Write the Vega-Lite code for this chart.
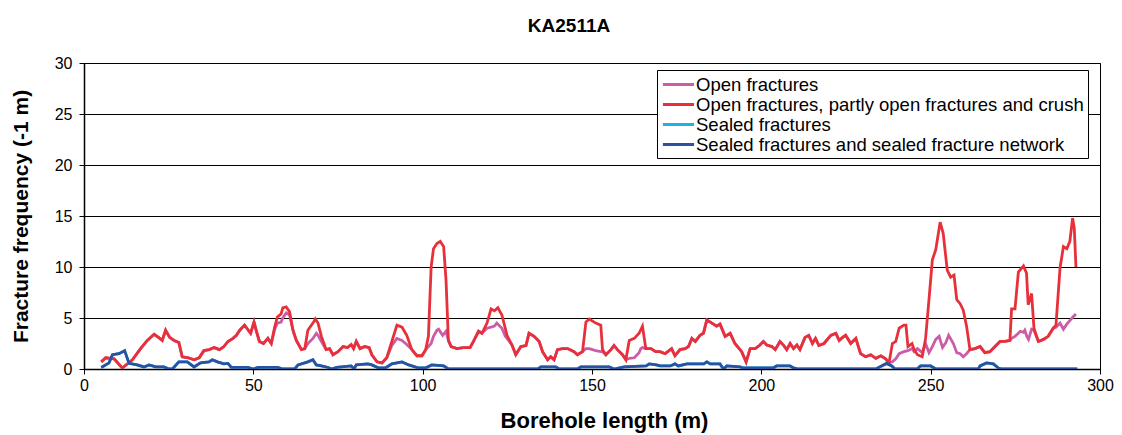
{
"$schema": "https://vega.github.io/schema/vega-lite/v6.json",
"width": 1016, "height": 306,
"autosize": {"type": "none"},
"padding": {"left": 84, "top": 63, "right": 22, "bottom": 66},
"title": {"text": "KA2511A", "fontSize": 19, "font": "Liberation Sans", "fontWeight": "bold", "anchor": "middle", "dx": -23, "offset": 19, "color": "#000"},
"config": {
  "view": {"stroke": "#000", "strokeWidth": 1},
  "font": "Liberation Sans",
  "axis": {"labelFont": "Liberation Sans", "titleFont": "Liberation Sans", "labelColor": "#000", "titleColor": "#000", "domainColor": "#000", "tickColor": "#000", "labelFontSize": 16, "titleFontSize": 21, "titleFontWeight": "bold", "domainWidth": 1.5, "tickSize": 5}
},
"datasets": {
  "open": [
{"x":5.1,"y":0.7},{"x":6.4,"y":1.1},{"x":8.9,"y":1.0},{"x":11.3,"y":0.1},{"x":14.3,"y":0.9},{"x":16.7,"y":2.0},{"x":18.7,"y":2.8},{"x":20.7,"y":3.4},{"x":22.0,"y":3.1},{"x":23.1,"y":2.8},{"x":24.1,"y":3.8},{"x":25.3,"y":3.1},{"x":26.6,"y":2.8},{"x":28.0,"y":2.6},{"x":29.0,"y":1.2},{"x":30.8,"y":1.1},{"x":32.5,"y":0.9},{"x":34.0,"y":1.1},{"x":35.4,"y":1.8},{"x":37.0,"y":1.9},{"x":38.4,"y":2.1},{"x":40.0,"y":1.9},{"x":41.3,"y":2.2},{"x":42.5,"y":2.7},{"x":44.0,"y":3.0},{"x":45.0,"y":3.3},{"x":46.0,"y":3.8},{"x":47.4,"y":4.3},{"x":48.3,"y":3.9},{"x":49.2,"y":3.5},{"x":50.2,"y":4.6},{"x":51.0,"y":3.6},{"x":51.8,"y":2.7},{"x":53.0,"y":2.5},{"x":54.3,"y":3.0},{"x":55.3,"y":2.5},
{"x":56.3,"y":3.9},{"x":57.1,"y":4.5},{"x":58.2,"y":4.6},{"x":58.7,"y":5.0},{"x":59.7,"y":5.5},{"x":60.7,"y":5.3},{"x":61.7,"y":3.8},{"x":62.7,"y":2.8},{"x":64.2,"y":1.9},{"x":65.2,"y":2.0},{"x":66.1,"y":2.5},{"x":67.6,"y":3.0},{"x":68.6,"y":3.5},{"x":69.1,"y":3.3},{"x":70.1,"y":2.7},{"x":71.5,"y":1.9},{"x":72.5,"y":2.0},{"x":73.5,"y":1.4},{"x":75.0,"y":1.7},{"x":76.5,"y":2.2},{"x":77.8,"y":2.1},{"x":78.9,"y":2.4},{"x":79.6,"y":2.0},{"x":80.4,"y":2.7},{"x":81.5,"y":2.0},{"x":82.9,"y":2.2},{"x":84.2,"y":2.1},{"x":85.0,"y":1.4},{"x":86.5,"y":0.7},{"x":88.0,"y":0.6},{"x":89.4,"y":1.1},{"x":90.9,"y":2.3},{"x":92.4,"y":3.0},{"x":93.9,"y":2.8},{"x":95.3,"y":2.4},{"x":96.8,"y":1.9},{"x":98.3,"y":1.3},{"x":99.8,"y":1.3},{"x":100.9,"y":1.9},{"x":101.7,"y":2.2},{"x":102.5,"y":2.5},{"x":103.2,"y":3.2},{"x":104.2,"y":3.8},{"x":104.7,"y":3.9},{"x":105.9,"y":3.3},{"x":106.9,"y":3.7},{"x":107.6,"y":2.8},{"x":108.4,"y":2.2},{"x":110.1,"y":2.0},{"x":112.0,"y":2.1},{"x":114.0,"y":2.1},{"x":115.0,"y":2.7},{"x":116.5,"y":3.7},{"x":117.5,"y":3.5},{"x":119.0,"y":4.0},{"x":120.2,"y":4.1},{"x":121.2,"y":4.2},{"x":121.9,"y":4.5},{"x":123.4,"y":4.0},{"x":124.4,"y":3.2},{"x":124.9,"y":3.0},{"x":126.3,"y":2.4},{"x":127.5,"y":1.4},{"x":129.0,"y":2.2},{"x":130.5,"y":2.3},{"x":131.4,"y":3.5},{"x":132.9,"y":3.2},{"x":134.4,"y":2.7},{"x":135.4,"y":1.7},{"x":136.9,"y":0.9},{"x":137.8,"y":1.2},{"x":138.8,"y":0.9},{"x":139.8,"y":1.9},{"x":141.3,"y":2.0},{"x":142.8,"y":2.0},{"x":144.7,"y":1.7},{"x":145.7,"y":1.4},{"x":147.2,"y":1.7},{"x":148.2,"y":2.0},{"x":149.2,"y":2.0},{"x":151.1,"y":1.8},{"x":152.6,"y":1.7},{"x":153.1,"y":1.7},{"x":154.1,"y":1.4},{"x":155.6,"y":1.9},{"x":156.5,"y":2.3},{"x":157.5,"y":1.9},{"x":159.0,"y":1.4},{"x":160.0,"y":0.9},{"x":161.0,"y":1.05},{"x":162.5,"y":1.1},{"x":163.9,"y":1.6},{"x":164.4,"y":2.0},{"x":164.9,"y":2.1},{"x":165.9,"y":2.0},{"x":167.4,"y":2.0},{"x":168.8,"y":1.7},
{"x":170.1,"y":1.7},{"x":171.6,"y":1.5},{"x":173.5,"y":2.0},{"x":174.5,"y":1.3},{"x":176.0,"y":1.9},{"x":177.5,"y":2.0},{"x":178.5,"y":2.2},{"x":179.5,"y":3.0},{"x":180.5,"y":2.7},{"x":181.9,"y":3.3},{"x":182.9,"y":3.5},{"x":183.9,"y":4.8},{"x":185.4,"y":4.5},{"x":186.8,"y":4.2},{"x":187.8,"y":4.4},{"x":189.3,"y":3.2},{"x":190.8,"y":3.5},{"x":192.2,"y":2.5},{"x":194.2,"y":1.7},{"x":195.5,"y":0.7},{"x":196.7,"y":2.0},{"x":198.2,"y":2.0},{"x":199.6,"y":2.35},{"x":200.6,"y":2.7},{"x":201.6,"y":2.35},{"x":203.1,"y":2.2},{"x":204.1,"y":1.9},{"x":205.5,"y":2.7},{"x":206.5,"y":2.35},{"x":207.5,"y":1.9},{"x":208.5,"y":2.5},{"x":209.5,"y":2.0},{"x":210.5,"y":2.35},{"x":211.4,"y":1.9},{"x":212.9,"y":3.1},{"x":214.0,"y":3.3},{"x":215.1,"y":2.5},{"x":216.0,"y":3.0},{"x":217.0,"y":2.3},{"x":218.5,"y":2.5},{"x":220.5,"y":3.3},{"x":222.0,"y":3.5},{"x":223.0,"y":2.8},{"x":224.0,"y":3.1},{"x":224.9,"y":3.3},{"x":226.4,"y":2.5},{"x":227.9,"y":3.0},{"x":229.3,"y":1.5},{"x":230.8,"y":1.2},{"x":232.3,"y":1.4},{"x":233.8,"y":1.05},{"x":235.3,"y":1.3},{"x":236.7,"y":1.0},{"x":237.7,"y":0.6},
{"x":238.7,"y":0.7},{"x":239.7,"y":1.0},{"x":240.7,"y":1.5},{"x":242.1,"y":1.7},{"x":243.3,"y":1.8},{"x":244.5,"y":2.0},{"x":245.1,"y":1.7},{"x":246.1,"y":2.0},{"x":247.5,"y":1.6},{"x":248.5,"y":2.5},{"x":249.5,"y":1.6},{"x":250.5,"y":2.2},{"x":251.5,"y":2.9},{"x":252.5,"y":3.2},{"x":253.5,"y":2.1},{"x":254.5,"y":2.6},{"x":255.3,"y":3.3},{"x":256.7,"y":2.5},{"x":257.7,"y":1.6},{"x":258.7,"y":1.5},{"x":259.6,"y":1.2},{"x":260.6,"y":1.5},{"x":261.6,"y":1.9},{"x":263.1,"y":2.0},{"x":264.6,"y":2.2},{"x":266.0,"y":1.6},{"x":267.5,"y":1.7},{"x":269.0,"y":2.2},{"x":270.5,"y":2.7},{"x":272.0,"y":2.7},{"x":273.4,"y":2.8},{"x":273.9,"y":3.0},{"x":274.9,"y":3.2},{"x":275.9,"y":3.5},{"x":276.5,"y":3.7},{"x":277.4,"y":3.6},{"x":277.8,"y":3.8},{"x":278.4,"y":3.2},{"x":278.9,"y":2.9},{"x":279.8,"y":3.9},{"x":280.5,"y":3.8},{"x":281.8,"y":2.7},{"x":283.3,"y":2.9},{"x":284.7,"y":3.2},{"x":286.2,"y":4.0},{"x":287.0,"y":4.1},{"x":288.2,"y":4.5},{"x":289.2,"y":3.9},{"x":290.2,"y":4.4},{"x":291.2,"y":4.8},{"x":292.0,"y":5.1},{"x":292.9,"y":5.4}
  ],
  "crush": [
{"x":5.1,"y":0.7},{"x":6.4,"y":1.1},{"x":8.9,"y":1.0},{"x":11.3,"y":0.1},{"x":14.3,"y":0.9},{"x":16.7,"y":2.0},{"x":18.7,"y":2.8},{"x":20.7,"y":3.4},{"x":22.0,"y":3.1},{"x":23.1,"y":2.8},{"x":24.1,"y":3.8},{"x":25.3,"y":3.1},{"x":26.6,"y":2.8},{"x":28.0,"y":2.6},{"x":29.0,"y":1.2},{"x":30.8,"y":1.1},{"x":32.5,"y":0.9},{"x":34.0,"y":1.1},{"x":35.4,"y":1.8},{"x":37.0,"y":1.9},{"x":38.4,"y":2.1},{"x":40.0,"y":1.9},{"x":41.3,"y":2.2},{"x":42.5,"y":2.7},{"x":44.0,"y":3.0},{"x":45.0,"y":3.3},{"x":46.0,"y":3.8},{"x":47.4,"y":4.3},{"x":48.3,"y":3.9},{"x":49.2,"y":3.5},{"x":50.2,"y":4.6},{"x":51.0,"y":3.6},{"x":51.8,"y":2.7},{"x":53.0,"y":2.5},{"x":54.3,"y":3.0},{"x":55.3,"y":2.5},{"x":56.3,"y":4.1},{"x":57.1,"y":5.1},{"x":58.2,"y":5.4},{"x":58.7,"y":6.0},{"x":59.7,"y":6.1},{"x":60.7,"y":5.6},{"x":61.7,"y":3.8},{"x":62.7,"y":2.8},{"x":64.2,"y":1.9},{"x":65.2,"y":2.0},{"x":66.1,"y":3.8},{"x":67.6,"y":4.5},{"x":68.3,"y":4.9},{"x":69.1,"y":4.5},{"x":70.1,"y":3.2},{"x":71.5,"y":1.9},{"x":72.5,"y":2.0},{"x":73.5,"y":1.4},{"x":75.0,"y":1.7},{"x":76.5,"y":2.2},{"x":77.8,"y":2.1},{"x":78.9,"y":2.4},{"x":79.6,"y":2.0},{"x":80.4,"y":2.7},{"x":81.5,"y":2.0},{"x":82.9,"y":2.2},{"x":84.2,"y":2.1},{"x":85.0,"y":1.4},{"x":86.5,"y":0.7},{"x":88.0,"y":0.6},{"x":89.4,"y":1.1},{"x":90.9,"y":2.7},{"x":92.4,"y":4.3},{"x":93.9,"y":4.1},{"x":95.3,"y":3.3},{"x":96.8,"y":1.9},{"x":98.3,"y":1.3},{"x":99.8,"y":1.3},{"x":100.9,"y":1.9},{"x":101.7,"y":3.2},{"x":102.5,"y":10.0},{"x":103.2,"y":11.8},{"x":104.2,"y":12.3},{"x":105.2,"y":12.5},{"x":106.2,"y":12.0},{"x":106.9,"y":8.7},{"x":107.6,"y":2.8},{"x":108.4,"y":2.2},{"x":110.1,"y":2.0},{"x":112.0,"y":2.1},{"x":114.0,"y":2.1},{"x":115.0,"y":2.7},{"x":116.5,"y":3.7},{"x":117.5,"y":3.5},{"x":119.0,"y":4.5},{"x":120.2,"y":5.9},{"x":121.2,"y":5.7},{"x":122.2,"y":6.0},{"x":123.4,"y":5.3},{"x":124.9,"y":3.3},{"x":126.3,"y":2.4},{"x":127.5,"y":1.4},{"x":129.0,"y":2.2},{"x":130.5,"y":2.3},{"x":131.4,"y":3.5},{"x":132.9,"y":3.2},{"x":134.4,"y":2.7},{"x":135.4,"y":1.7},{"x":136.9,"y":0.9},{"x":137.8,"y":1.2},{"x":138.8,"y":0.9},{"x":139.8,"y":1.9},{"x":141.3,"y":2.0},{"x":142.8,"y":2.0},{"x":144.7,"y":1.7},{"x":145.7,"y":1.4},{"x":147.2,"y":1.7},{"x":148.2,"y":4.6},{"x":149.2,"y":4.9},{"x":151.1,"y":4.5},{"x":152.6,"y":4.3},{"x":153.1,"y":1.9},{"x":154.1,"y":1.4},{"x":155.6,"y":1.9},{"x":156.5,"y":2.3},{"x":157.5,"y":1.9},{"x":159.0,"y":1.4},{"x":160.0,"y":0.9},{"x":161.0,"y":2.8},{"x":162.5,"y":3.0},{"x":163.9,"y":3.5},{"x":164.9,"y":4.2},{"x":165.9,"y":2.0},{"x":167.4,"y":2.0},{"x":168.8,"y":1.7},
{"x":170.1,"y":1.7},{"x":171.6,"y":1.5},{"x":173.5,"y":2.0},{"x":174.5,"y":1.3},{"x":176.0,"y":1.9},{"x":177.5,"y":2.0},{"x":178.5,"y":2.2},{"x":179.5,"y":3.0},{"x":180.5,"y":2.7},{"x":181.9,"y":3.3},{"x":182.9,"y":3.5},{"x":183.9,"y":4.8},{"x":185.4,"y":4.5},{"x":186.8,"y":4.2},{"x":187.8,"y":4.4},{"x":189.3,"y":3.2},{"x":190.8,"y":3.5},{"x":192.2,"y":2.5},{"x":194.2,"y":1.7},{"x":195.5,"y":0.7},{"x":196.7,"y":2.0},{"x":198.2,"y":2.0},{"x":199.6,"y":2.35},{"x":200.6,"y":2.7},{"x":201.6,"y":2.35},{"x":203.1,"y":2.2},{"x":204.1,"y":1.9},{"x":205.5,"y":2.7},{"x":206.5,"y":2.35},{"x":207.5,"y":1.9},{"x":208.5,"y":2.5},{"x":209.5,"y":2.0},{"x":210.5,"y":2.35},{"x":211.4,"y":1.9},{"x":212.9,"y":3.1},{"x":214.0,"y":3.3},{"x":215.1,"y":2.5},{"x":216.0,"y":3.0},{"x":217.0,"y":2.3},{"x":218.5,"y":2.5},{"x":220.5,"y":3.3},{"x":222.0,"y":3.5},{"x":223.0,"y":2.8},{"x":224.0,"y":3.1},{"x":224.9,"y":3.3},{"x":226.4,"y":2.5},{"x":227.9,"y":3.0},{"x":229.3,"y":1.5},{"x":230.8,"y":1.2},{"x":232.3,"y":1.4},{"x":233.8,"y":1.05},{"x":235.3,"y":1.3},{"x":236.7,"y":1.0},{"x":237.7,"y":0.6},{"x":238.7,"y":2.5},{"x":239.7,"y":2.7},{"x":240.7,"y":4.0},{"x":242.1,"y":4.3},{"x":242.7,"y":4.3},{"x":243.3,"y":2.2},{"x":244.5,"y":2.5},{"x":245.1,"y":1.9},{"x":246.1,"y":1.4},{"x":247.5,"y":1.2},{"x":248.5,"y":3.0},{"x":249.5,"y":6.8},{"x":250.5,"y":10.7},{"x":251.5,"y":11.7},{"x":252.8,"y":14.4},{"x":253.7,"y":13.3},{"x":254.9,"y":9.7},{"x":255.9,"y":9.0},{"x":256.9,"y":9.2},{"x":257.7,"y":6.8},{"x":258.7,"y":6.4},{"x":259.6,"y":5.8},{"x":260.6,"y":4.2},{"x":261.6,"y":1.9},{"x":263.1,"y":2.0},{"x":264.6,"y":2.2},{"x":266.0,"y":1.6},{"x":267.5,"y":1.7},{"x":269.0,"y":2.2},{"x":270.5,"y":2.7},{"x":272.0,"y":2.7},{"x":273.4,"y":2.8},{"x":273.9,"y":5.9},{"x":274.9,"y":5.9},{"x":275.9,"y":9.5},{"x":277.4,"y":10.1},{"x":278.3,"y":9.4},{"x":278.8,"y":6.3},{"x":279.8,"y":7.4},{"x":280.5,"y":4.0},{"x":281.8,"y":2.7},{"x":283.3,"y":2.9},{"x":284.7,"y":3.2},{"x":286.2,"y":4.0},{"x":287.0,"y":4.3},{"x":288.2,"y":9.9},{"x":289.2,"y":12.0},{"x":290.2,"y":11.8},{"x":291.1,"y":12.5},{"x":291.9,"y":14.8},{"x":292.4,"y":13.8},{"x":292.9,"y":10.0}
  ],
  "sealed": [
{"x":5.1,"y":0.15},{"x":7.4,"y":0.6},{"x":8.4,"y":1.4},{"x":10.3,"y":1.5},{"x":12.0,"y":1.8},{"x":13.3,"y":0.55},{"x":15.7,"y":0.4},{"x":17.7,"y":0.2},{"x":19.2,"y":0.4},{"x":21.2,"y":0.2},{"x":23.6,"y":0.2},{"x":25.1,"y":0},{"x":26.1,"y":0},{"x":28.0,"y":0.7},{"x":30.5,"y":0.7},{"x":32.5,"y":0.2},{"x":34.4,"y":0.6},{"x":36.9,"y":0.7},{"x":37.9,"y":0.9},{"x":39.4,"y":0.7},{"x":41.3,"y":0.5},{"x":42.5,"y":0.55},{"x":43.5,"y":0.15},{"x":48.4,"y":0.15},{"x":49.9,"y":0},{"x":51.4,"y":0.15},{"x":57.2,"y":0.15},{"x":58.7,"y":0},{"x":62.2,"y":0},{"x":63.2,"y":0.4},{"x":66.1,"y":0.7},{"x":67.6,"y":0.9},{"x":68.6,"y":0.4},{"x":70.1,"y":0.3},{"x":72.1,"y":0.15},{"x":73.1,"y":0},{"x":74.6,"y":0.15},{"x":78.9,"y":0.3},{"x":79.7,"y":0},{"x":80.4,"y":0.4},{"x":83.8,"y":0.5},{"x":85.0,"y":0.4},{"x":87.0,"y":0.1},{"x":89.0,"y":0.1},{"x":90.9,"y":0.5},{"x":93.9,"y":0.7},{"x":95.9,"y":0.4},{"x":98.8,"y":0.1},{"x":100.8,"y":0.1},{"x":102.7,"y":0.4},{"x":106.2,"y":0.3},{"x":107.6,"y":0},{"x":134.0,"y":0},{"x":134.9,"y":0.2},{"x":139.3,"y":0.2},{"x":140.3,"y":0},{"x":145.7,"y":0},{"x":146.7,"y":0.2},{"x":155.1,"y":0.2},{"x":156.5,"y":0},{"x":159.5,"y":0.2},{"x":166.0,"y":0.3},{"x":166.9,"y":0.5},{"x":169.0,"y":0.4},{"x":170.1,"y":0.3},{"x":173.1,"y":0.3},{"x":174.5,"y":0.5},{"x":175.5,"y":0.3},{"x":178.0,"y":0.5},{"x":183.0,"y":0.5},{"x":183.9,"y":0.7},{"x":184.9,"y":0.5},{"x":187.8,"y":0.5},{"x":188.8,"y":0},{"x":189.8,"y":0.3},{"x":193.7,"y":0.2},{"x":194.7,"y":0.1},{"x":203.5,"y":0.1},{"x":204.5,"y":0.3},{"x":208.5,"y":0.3},{"x":209.5,"y":0.1},{"x":211.0,"y":0},{"x":233.8,"y":0},{"x":235.5,"y":0.3},{"x":237.0,"y":0.55},{"x":238.5,"y":0.3},{"x":239.5,"y":0},{"x":246.0,"y":0},{"x":247.0,"y":0.3},{"x":250.0,"y":0.3},{"x":251.5,"y":0},{"x":264.1,"y":0},{"x":264.6,"y":0.3},{"x":266.5,"y":0.6},{"x":268.5,"y":0.5},{"x":270.0,"y":0.1},{"x":271.0,"y":0},{"x":293.3,"y":0}
  ],
  "network": [
{"x":5.1,"y":0.15},{"x":7.4,"y":0.6},{"x":8.4,"y":1.4},{"x":10.3,"y":1.5},{"x":12.0,"y":1.8},{"x":13.3,"y":0.55},{"x":15.7,"y":0.4},{"x":17.7,"y":0.2},{"x":19.2,"y":0.4},{"x":21.2,"y":0.2},{"x":23.6,"y":0.2},{"x":25.1,"y":0},{"x":26.1,"y":0},{"x":28.0,"y":0.7},{"x":30.5,"y":0.7},{"x":32.5,"y":0.2},{"x":34.4,"y":0.6},{"x":36.9,"y":0.7},{"x":37.9,"y":0.9},{"x":39.4,"y":0.7},{"x":41.3,"y":0.5},{"x":42.5,"y":0.55},{"x":43.5,"y":0.15},{"x":48.4,"y":0.15},{"x":49.9,"y":0},{"x":51.4,"y":0.15},{"x":57.2,"y":0.15},{"x":58.7,"y":0},{"x":62.2,"y":0},{"x":63.2,"y":0.4},{"x":66.1,"y":0.7},{"x":67.6,"y":0.9},{"x":68.6,"y":0.4},{"x":70.1,"y":0.3},{"x":72.1,"y":0.15},{"x":73.1,"y":0},{"x":74.6,"y":0.15},{"x":78.9,"y":0.3},{"x":79.7,"y":0},{"x":80.4,"y":0.4},{"x":83.8,"y":0.5},{"x":85.0,"y":0.4},{"x":87.0,"y":0.1},{"x":89.0,"y":0.1},{"x":90.9,"y":0.5},{"x":93.9,"y":0.7},{"x":95.9,"y":0.4},{"x":98.8,"y":0.1},{"x":100.8,"y":0.1},{"x":102.7,"y":0.4},{"x":106.2,"y":0.3},{"x":107.6,"y":0},{"x":134.0,"y":0},{"x":134.9,"y":0.2},{"x":139.3,"y":0.2},{"x":140.3,"y":0},{"x":145.7,"y":0},{"x":146.7,"y":0.2},{"x":155.1,"y":0.2},{"x":156.5,"y":0},{"x":159.5,"y":0.2},{"x":166.0,"y":0.3},{"x":166.9,"y":0.5},{"x":169.0,"y":0.4},{"x":170.1,"y":0.3},{"x":173.1,"y":0.3},{"x":174.5,"y":0.5},{"x":175.5,"y":0.3},{"x":178.0,"y":0.5},{"x":183.0,"y":0.5},{"x":183.9,"y":0.7},{"x":184.9,"y":0.5},{"x":187.8,"y":0.5},{"x":188.8,"y":0},{"x":189.8,"y":0.3},{"x":193.7,"y":0.2},{"x":194.7,"y":0.1},{"x":203.5,"y":0.1},{"x":204.5,"y":0.3},{"x":208.5,"y":0.3},{"x":209.5,"y":0.1},{"x":211.0,"y":0},{"x":233.8,"y":0},{"x":235.5,"y":0.3},{"x":237.0,"y":0.55},{"x":238.5,"y":0.3},{"x":239.5,"y":0},{"x":246.0,"y":0},{"x":247.0,"y":0.3},{"x":250.0,"y":0.3},{"x":251.5,"y":0},{"x":264.1,"y":0},{"x":264.6,"y":0.3},{"x":266.5,"y":0.6},{"x":268.5,"y":0.5},{"x":270.0,"y":0.1},{"x":271.0,"y":0},{"x":293.3,"y":0}
  ]
},
"encoding": {
  "x": {"field": "x", "type": "quantitative", "scale": {"domain": [0, 300], "nice": false, "zero": false},
        "axis": {"values": [0,50,100,150,200,250,300], "grid": false, "title": "Borehole length (m)", "titleFontSize": 22, "titleX": 520, "labelPadding": 3, "titlePadding": 17, "labelFlush": false}},
  "y": {"field": "y", "type": "quantitative", "scale": {"domain": [0, 30], "nice": false},
        "axis": {"values": [0,5,10,15,20,25,30], "grid": true, "gridColor": "#000", "gridWidth": 1, "gridOpacity": 1, "title": "Fracture frequency (-1 m)", "labelPadding": 7, "titlePadding": 23}}
},
"layer": [
  {"data": {"name": "open"}, "mark": {"type": "line", "strokeWidth": 2.8, "clip": true},
   "encoding": {"color": {"datum": "Open fractures", "type": "nominal",
     "scale": {"domain": ["Open fractures", "Open fractures, partly open fractures and crush", "Sealed fractures", "Sealed fractures and sealed fracture network"], "range": ["#cc5ca8", "#e8303a", "#1cb3e4", "#2a52a0"]},
     "legend": {"orient": "none", "legendX": 573, "legendY": 7, "title": null, "strokeColor": "#000", "fillColor": "#fff", "padding": 4, "labelFontSize": 18.5, "labelFont": "Liberation Sans", "labelColor": "#000", "labelLimit": 600, "symbolType": "M-1.8,0H1.8", "symbolStrokeWidth": 3, "symbolSize": 300, "symbolOffset": 7, "rowPadding": -2.3, "labelOffset": 7}}}},
  {"data": {"name": "crush"}, "mark": {"type": "line", "strokeWidth": 2.8, "clip": true},
   "encoding": {"color": {"datum": "Open fractures, partly open fractures and crush", "type": "nominal"}}},
  {"data": {"name": "sealed"}, "mark": {"type": "line", "strokeWidth": 2.8, "clip": true},
   "encoding": {"color": {"datum": "Sealed fractures", "type": "nominal"}}},
  {"data": {"name": "network"}, "mark": {"type": "line", "strokeWidth": 2.8, "clip": true},
   "encoding": {"color": {"datum": "Sealed fractures and sealed fracture network", "type": "nominal"}}}
]
}
